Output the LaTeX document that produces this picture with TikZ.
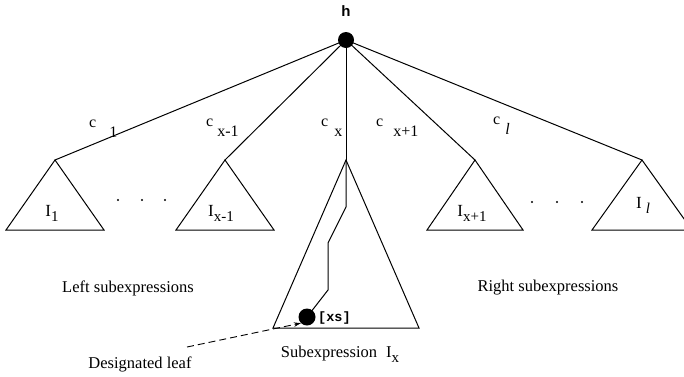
\documentclass[tikz,border=0pt]{standalone}
\usepackage{fontspec}
\setmainfont{Liberation Serif}
\newfontfamily\headfont{Liberation Sans}
\newfontfamily\leaffont{Liberation Mono}
\usetikzlibrary{arrows.meta}

% edge label: c, gap, lowered subscript
\newcommand{\clab}[2]{c\hspace{#1}\raisebox{-10pt}{#2}}
% subtree label: I with lowered subscript
\newcommand{\Ilab}[2][0pt]{I\hspace{#1}\raisebox{-5pt}{\fontsize{15}{15}\selectfont #2}}

\tikzset{
  edge/.style={line width=1pt},
  subtree/.style={line width=1pt},
  bigdot/.style={circle, fill=black, inner sep=0pt, minimum size=16pt},
  leafdot/.style={circle, fill=black, inner sep=0pt, minimum size=17pt},
  elabel/.style={font=\fontsize{16}{18}\selectfont, inner sep=0pt, anchor=base west},
  tlabel/.style={font=\fontsize{17}{19}\selectfont, inner sep=0pt},
  caption/.style={font=\fontsize{16.5}{19}\selectfont, inner sep=0pt},
}

\begin{document}
\begin{tikzpicture}[x=1pt, y=-1pt]
  \useasboundingbox (0,0) rectangle (684,376);

  % Root
  \node[bigdot] (h) at (346,40) {};
  \node[font=\headfont\bfseries\fontsize{15}{17}\selectfont, inner sep=0pt] (hlab) at (346,11) {h};

  % Subtree roots
  \coordinate (a1) at (55,160);
  \coordinate (a2) at (225,160);
  \coordinate (ax) at (346,160);
  \coordinate (a3) at (475,160);
  \coordinate (a4) at (642,160);

  % Edges from the root
  \foreach \a in {a1,a2,ax,a3,a4}
    \draw[edge] (h.center) -- (\a);

  % Edge labels
  \node[elabel] (c1) at (89,127) {\clab{13pt}{1}};
  \node[elabel] (c2) at (206,126) {\clab{4pt}{x-1}};
  \node[elabel] (cx) at (321,126) {\clab{6pt}{x}};
  \node[elabel] (c3) at (376,126) {\clab{10pt}{x+1}};
  \node[elabel] (c4) at (493,124) {\clab{5pt}{\itshape l}};

  % Left and right subtrees
  \draw[subtree] (a1) -- ++(-49,70) -- ++(98,0) -- cycle;
  \draw[subtree] (a2) -- ++(-49,70) -- ++(98,0) -- cycle;
  \draw[subtree] (a3) -- ++(-48,70) -- ++(96,0) -- cycle;
  \draw[subtree] (a4) -- ++(-50,70) -- ++(100,0) -- cycle;

  \node[tlabel] (i1) at (52,213) {\Ilab{1}};
  \node[tlabel] (i2) at (221,213) {\Ilab{x-1}};
  \node[tlabel] (i3) at (472,213) {\Ilab{x+1}};
  \node[tlabel] (i4) at (643,205) {\Ilab[4pt]{\itshape l}};

  % Dots between subtrees
  \foreach \x in {118,142,165}
    \fill (\x,200) circle (1.1pt);
  \foreach \x in {532,557,582}
    \fill (\x,202) circle (1.1pt);

  % Middle subtree
  \draw[subtree] (ax) -- (273,328) -- (419,328) -- cycle;
  \node[leafdot] (leaf) at (307,317) {};
  \node[font=\leaffont\bfseries\fontsize{13.5}{15}\selectfont, inner sep=0pt, anchor=west] (xs) at (318,318) {[xs]};
  \coordinate (p1) at (346,207);
  \coordinate (p2) at (328,243);
  \coordinate (p3) at (328,290);
  \draw[edge] (ax) -- (p1) -- (p2) -- (p3) -- (leaf.center);

  % Captions
  \node[caption] (left) at (128,288) {Left subexpressions};
  \node[caption] (right) at (548,288) {Right subexpressions};
  \node[caption] (sub) at (340,354) {Subexpression\hspace{9pt}\Ilab{x}};
  \node[caption] (dl) at (140,364) {Designated leaf};

  % Pointer to the designated leaf
  \coordinate (dstart) at (187,347);
  \draw[line width=0.9pt, dash pattern=on 7pt off 4pt, -{Stealth[length=7pt, width=4.5pt]}] (dstart) -- (leaf.south west);
\end{tikzpicture}
\end{document}
